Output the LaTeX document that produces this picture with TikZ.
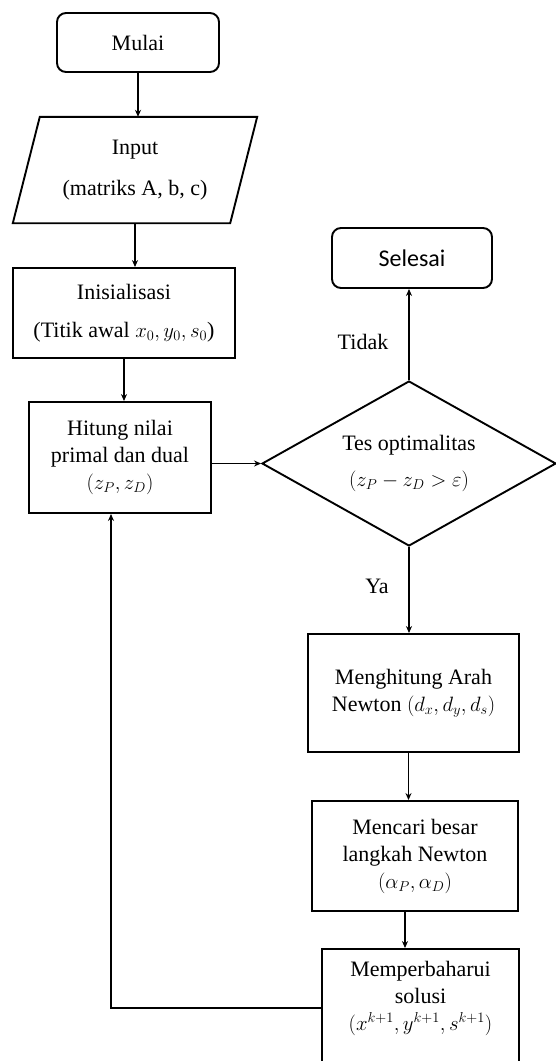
\documentclass[tikz,border=0pt]{standalone}
\usepackage{fontspec}
\setmainfont{Liberation Serif}
\newfontfamily\selfont{Carlito}
\usetikzlibrary{shapes.geometric,arrows.meta}
\begin{document}
\begin{tikzpicture}[x=1pt,y=-1pt,
  every node/.style={font=\fontsize{22}{27}\selectfont, align=center, inner sep=0pt},
  ln/.style={line width=1.9pt},
  proc/.style={draw, ln, rectangle},
  term/.style={draw, ln, rounded corners=9pt},
  arr/.style={ln, -{Stealth[length=7pt,width=6pt]}}]
\clip (0,0) rectangle (556,1061);
% terminals
\node[term, minimum width=162, minimum height=59] (mul) at (138,42.5) {Mulai};
\node[term, minimum width=160, minimum height=60, font=\selfont\fontsize{24}{28}\selectfont] (sel) at (412,258) {Selesai};
% input parallelogram
\node[minimum width=244, minimum height=106] (inp) at (135,170) {Input\\[14pt](matriks A, b, c)};
\draw[ln] ([xshift=27pt]inp.north west) -- (inp.north east) -- ([xshift=-27pt]inp.south east) -- (inp.south west) -- cycle;
% processes
\node[proc, minimum width=222, minimum height=90] (ini) at (124,313) {Inisialisasi\\[11pt](Titik awal $x_0, y_0, s_0$)};
\node[proc, minimum width=182, minimum height=111] (hit) at (120,457.5) {Hitung nilai\\primal dan dual\\$(z_P, z_D)$};
\node[diamond, draw, ln, aspect=1.78, minimum width=294, minimum height=165] (dia) at (409,463.5) {Tes optimalitas\\[9pt]$(z_P - z_D > \varepsilon)$};
\node[proc, minimum width=211, minimum height=118] (mhn) at (413.5,693) {Menghitung Arah\\Newton $(d_x, d_y, d_s)$};
\node[proc, minimum width=206, minimum height=110] (mcr) at (415,856) {Mencari besar\\langkah Newton\\$(\alpha_P, \alpha_D)$};
\node[proc, minimum width=197, minimum height=114, label={[yshift=8pt]center:{Memperbaharui\\solusi\\$(x^{k+1}, y^{k+1}, s^{k+1})$}}] (mem) at (420.5,1006) {};
% labels
\node (tidak) at (363,342) {Tidak};
\node (ya) at (377,586) {Ya};
% connectors
\draw[arr] (mul.south) -- (mul.south |- inp.north);
\draw[arr] (inp.south) -- (inp.south |- ini.north);
\draw[arr] (ini.south) -- (ini.south |- hit.north);
\draw[arr] (dia.west -| hit.east) -- (dia.west);
\draw[arr] (dia.north) -- (dia.north |- sel.south);
\draw[arr] (dia.south) -- (dia.south |- mhn.north);
\draw[arr] ([xshift=-5pt]mhn.south) -- ([xshift=-5pt]mhn.south |- mcr.north);
\draw[arr] ([xshift=-10pt]mcr.south) -- ([xshift=-10pt]mcr.south |- mem.north);
\draw[arr] ([yshift=-2pt]mem.west) -- ([xshift=-9pt, yshift=-2pt]mem.west -| hit.south) -- ([xshift=-9pt]hit.south);
\end{tikzpicture}
\end{document}
